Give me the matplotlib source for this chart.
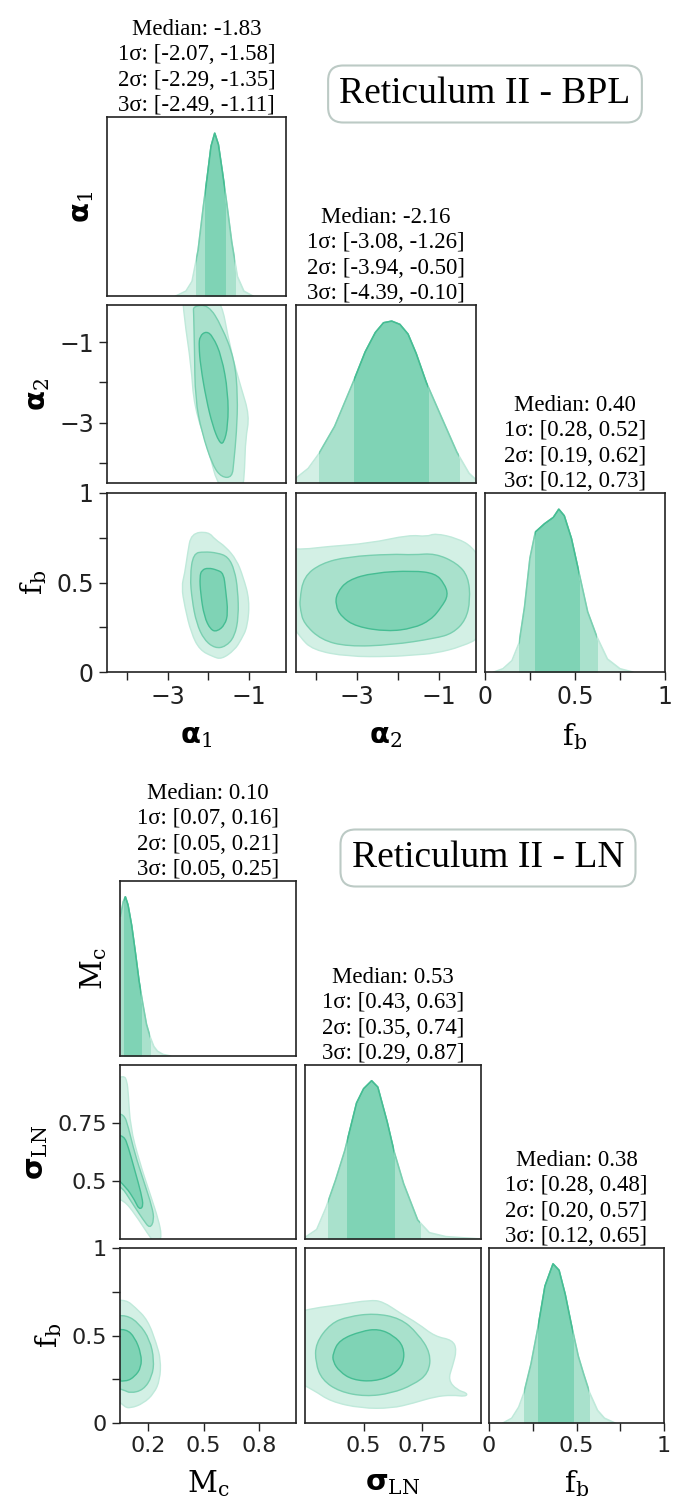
import numpy as np
import matplotlib
matplotlib.use('Agg')
import matplotlib.pyplot as plt
from matplotlib.path import Path
from matplotlib.patches import PathPatch, Rectangle

plt.rcParams['font.family'] = ['DejaVu Sans']
plt.rcParams['mathtext.fontset'] = 'custom'
plt.rcParams['mathtext.rm'] = 'DejaVu Serif'
plt.rcParams['mathtext.it'] = 'DejaVu Serif:italic'
plt.rcParams['mathtext.bf'] = 'DejaVu Sans:bold'

# ---------------- Reticulum II - BPL ----------------
bpl_names = [r'$\mathbf{\alpha}_\mathrm{1}$', r'$\mathbf{\alpha}_\mathrm{2}$', r'$\mathrm{f_b}$']
bpl_median = [-1.83, -2.16, 0.40]
bpl_1sig = [(-2.07, -1.58), (-3.08, -1.26), (0.28, 0.52)]
bpl_2sig = [(-2.29, -1.35), (-3.94, -0.50), (0.19, 0.62)]
bpl_3sig = [(-2.49, -1.11), (-4.39, -0.10), (0.12, 0.73)]

# marginal densities (peak normalised to 1)
alpha1_x = [-2.80, -2.55, -2.40, -2.25, -2.12, -2.02, -1.93, -1.84, -1.75, -1.65, -1.55, -1.42, -1.28, -1.12, -0.90]
alpha1_p = [0.0, 0.03, 0.09, 0.28, 0.55, 0.74, 0.92, 1.0, 0.93, 0.76, 0.58, 0.33, 0.12, 0.03, 0.0]
alpha2_x = [-4.5, -4.2, -3.94, -3.55, -3.1, -2.8, -2.55, -2.35, -2.15, -1.95, -1.75, -1.55, -1.3, -0.97,
            -0.55, -0.25, -0.08]
alpha2_p = [0.03, 0.09, 0.18, 0.35, 0.62, 0.81, 0.93, 0.99, 1.0, 0.98, 0.92, 0.80, 0.62, 0.43, 0.19, 0.06, 0.02]
fb1_x = [0.05, 0.10, 0.15, 0.19, 0.22, 0.25, 0.28, 0.33, 0.38, 0.41, 0.44, 0.48, 0.52, 0.57, 0.62, 0.68, 0.75, 0.82]
fb1_p = [0.0, 0.02, 0.07, 0.18, 0.40, 0.70, 0.86, 0.91, 0.95, 1.0, 0.96, 0.82, 0.62, 0.37, 0.22, 0.08, 0.02, 0.0]

# credible contours (3 sigma, 2 sigma, 1 sigma)
a1a2_3 = [(-2.64, 0.3), (-1.73, 0.3), (-1.45, -1.2), (-1.20, -2.1), (-0.98, -2.83), (-1.08, -3.41),
          (-1.10, -4.15), (-1.15, -4.7), (-1.73, -4.7), (-2.00, -3.66), (-2.35, -2.6), (-2.42, -1.59),
          (-2.60, -0.36)]
a1a2_2 = [(-2.37, -0.11), (-2.0, -0.07), (-1.67, -0.60), (-1.35, -1.43), (-1.27, -2.34), (-1.30, -3.24),
          (-1.37, -3.99), (-1.41, -4.36), (-1.67, -4.36), (-1.89, -4.07), (-2.16, -3.24), (-2.32, -2.42),
          (-2.34, -1.18), (-2.36, -0.27)]
a1a2_1 = [(-2.21, -0.85), (-2.05, -0.73), (-1.89, -0.85), (-1.67, -1.35), (-1.51, -2.25), (-1.51, -3.08),
          (-1.62, -3.53), (-1.73, -3.49), (-1.89, -3.08), (-2.05, -2.42), (-2.19, -1.59), (-2.23, -1.10)]
a1fb_3 = [(-2.42, 0.775), (-2.0, 0.784), (-1.83, 0.74), (-1.57, 0.70), (-1.30, 0.626), (-1.14, 0.533),
          (-0.98, 0.402), (-1.03, 0.253), (-1.19, 0.179), (-1.35, 0.123), (-1.67, 0.071), (-1.89, 0.086),
          (-2.21, 0.123), (-2.42, 0.216), (-2.58, 0.365), (-2.66, 0.477), (-2.58, 0.551), (-2.51, 0.663)]
a1fb_2 = [(-2.37, 0.663), (-2.10, 0.672), (-1.78, 0.666), (-1.51, 0.644), (-1.35, 0.570), (-1.27, 0.458),
          (-1.25, 0.309), (-1.35, 0.197), (-1.57, 0.142), (-1.83, 0.132), (-2.10, 0.179), (-2.29, 0.272),
          (-2.40, 0.402), (-2.45, 0.533)]
a1fb_1 = [(-2.16, 0.570), (-2.0, 0.582), (-1.78, 0.570), (-1.62, 0.551), (-1.57, 0.458), (-1.51, 0.328),
          (-1.59, 0.263), (-1.78, 0.226), (-1.94, 0.235), (-2.10, 0.309), (-2.19, 0.440), (-2.21, 0.533)]
a2fb_3 = [(-4.7, 0.69), (-4.31, 0.685), (-3.77, 0.70), (-2.69, 0.719), (-1.72, 0.766), (-1.29, 0.756),
          (-1.08, 0.775), (-0.54, 0.747), (-0.17, 0.70), (0.1, 0.6), (0.1, 0.2), (-0.43, 0.142),
          (-1.08, 0.104), (-1.62, 0.095), (-2.15, 0.086), (-3.23, 0.086), (-4.09, 0.123), (-4.41, 0.197),
          (-4.7, 0.3)]
a2fb_2 = [(-4.41, 0.402), (-4.31, 0.533), (-3.88, 0.607), (-3.23, 0.644), (-2.15, 0.659), (-1.62, 0.654),
          (-1.08, 0.663), (-0.54, 0.607), (-0.27, 0.533), (-0.22, 0.402), (-0.33, 0.290), (-0.65, 0.216),
          (-1.08, 0.188), (-2.15, 0.151), (-3.23, 0.142), (-3.88, 0.179), (-4.31, 0.272), (-4.39, 0.346)]
a2fb_1 = [(-3.50, 0.440), (-3.23, 0.514), (-2.59, 0.555), (-1.62, 0.566), (-1.08, 0.551), (-0.86, 0.495),
          (-0.76, 0.430), (-0.92, 0.365), (-1.19, 0.290), (-1.62, 0.244), (-2.26, 0.226), (-3.02, 0.253),
          (-3.39, 0.309), (-3.53, 0.374)]

bpl_lims = [(-4.5, -0.08), (-4.5, -0.08), (0, 1)]
bpl_ticks = [[-4, -3, -2, -1], [-4, -3, -2, -1], [0, 0.25, 0.5, 0.75, 1]]
bpl_ticklabels = [['', '\u22123', '', '\u22121'], ['', '\u22123', '', '\u22121'], ['0', '', '0.5', '', '1']]

# ---------------- Reticulum II - LN ----------------
ln_names = [r'$\mathrm{M_c}$', r'$\mathbf{\sigma}_\mathrm{LN}$', r'$\mathrm{f_b}$']
ln_median = [0.10, 0.53, 0.38]
ln_1sig = [(0.07, 0.16), (0.43, 0.63), (0.28, 0.48)]
ln_2sig = [(0.05, 0.21), (0.35, 0.74), (0.20, 0.57)]
ln_3sig = [(0.05, 0.25), (0.29, 0.87), (0.12, 0.65)]

mc_x = [0.05, 0.065, 0.076, 0.09, 0.11, 0.13, 0.15, 0.17, 0.19, 0.21, 0.23, 0.25, 0.28, 0.32]
mc_p = [0.88, 0.97, 1.0, 0.95, 0.82, 0.65, 0.47, 0.33, 0.20, 0.12, 0.06, 0.03, 0.01, 0.0]
sig_x = [0.25, 0.30, 0.34, 0.38, 0.42, 0.47, 0.50, 0.534, 0.56, 0.60, 0.63, 0.67, 0.73, 0.78, 0.85, 0.95, 1.0]
sig_p = [0.01, 0.06, 0.20, 0.37, 0.56, 0.86, 0.95, 1.0, 0.96, 0.74, 0.55, 0.35, 0.12, 0.04, 0.015, 0.005, 0.0]
fb2_x = [0.08, 0.13, 0.17, 0.20, 0.24, 0.28, 0.32, 0.366, 0.40, 0.435, 0.47, 0.51, 0.54, 0.575, 0.62, 0.66, 0.72]
fb2_p = [0.0, 0.03, 0.10, 0.19, 0.37, 0.60, 0.86, 1.0, 0.96, 0.81, 0.62, 0.42, 0.31, 0.19, 0.08, 0.03, 0.0]

mcsig_3 = [(0.0, 0.93), (0.068, 0.956), (0.085, 0.93), (0.092, 0.877), (0.103, 0.733), (0.150, 0.589),
           (0.209, 0.446), (0.256, 0.331), (0.272, 0.266), (0.26, 0.24), (0.232, 0.235), (0.197, 0.273),
           (0.127, 0.359), (0.068, 0.417), (0.0, 0.43)]
mcsig_2 = [(0.0, 0.79), (0.068, 0.79), (0.092, 0.733), (0.127, 0.618), (0.174, 0.503), (0.221, 0.388),
           (0.232, 0.331), (0.209, 0.295), (0.174, 0.331), (0.103, 0.417), (0.058, 0.474), (0.0, 0.49)]
mcsig_1 = [(0.0, 0.697), (0.068, 0.697), (0.092, 0.646), (0.127, 0.546), (0.162, 0.446), (0.174, 0.39),
           (0.150, 0.377), (0.127, 0.417), (0.080, 0.474), (0.0, 0.532)]
mcfb_3 = [(0.0, 0.70), (0.080, 0.703), (0.127, 0.663), (0.197, 0.589), (0.244, 0.455), (0.268, 0.360),
          (0.263, 0.246), (0.232, 0.170), (0.174, 0.112), (0.103, 0.084), (0.068, 0.093), (0.0, 0.17)]
mcfb_2 = [(0.0, 0.607), (0.080, 0.618), (0.150, 0.570), (0.209, 0.475), (0.232, 0.360), (0.221, 0.265),
          (0.174, 0.189), (0.103, 0.170), (0.068, 0.189), (0.0, 0.208)]
mcfb_1 = [(0.0, 0.529), (0.080, 0.538), (0.127, 0.490), (0.162, 0.395), (0.162, 0.318), (0.127, 0.265),
          (0.080, 0.236), (0.0, 0.246)]
sigfb_3 = [(0.20, 0.627), (0.286, 0.656), (0.397, 0.675), (0.527, 0.703), (0.582, 0.694), (0.656, 0.627),
           (0.730, 0.570), (0.804, 0.494), (0.878, 0.475), (0.897, 0.418), (0.878, 0.322), (0.860, 0.246),
           (0.897, 0.189), (0.943, 0.170), (0.934, 0.151), (0.878, 0.160), (0.804, 0.151), (0.711, 0.113),
           (0.619, 0.084), (0.490, 0.084), (0.360, 0.122), (0.286, 0.189), (0.20, 0.246)]
sigfb_2 = [(0.295, 0.456), (0.360, 0.570), (0.434, 0.608), (0.545, 0.627), (0.656, 0.599), (0.730, 0.513),
           (0.786, 0.399), (0.777, 0.284), (0.711, 0.218), (0.619, 0.170), (0.508, 0.151), (0.397, 0.179),
           (0.323, 0.246), (0.295, 0.342)]
sigfb_1 = [(0.369, 0.399), (0.397, 0.475), (0.490, 0.525), (0.564, 0.538), (0.628, 0.500), (0.671, 0.437),
           (0.671, 0.342), (0.628, 0.275), (0.545, 0.237), (0.453, 0.246), (0.397, 0.294), (0.369, 0.351)]

ln_lims = [(0.047, 1.0), (0.25, 1.0), (0, 1)]
ln_ticks = [[0.2, 0.5, 0.8], [0.5, 0.75], [0, 0.25, 0.5, 0.75, 1]]
ln_ticklabels = [['0.2', '0.5', '0.8'], ['0.5', '0.75'], ['0', '', '0.5', '', '1']]

# colours
LIGHT, MID, DARK = '#d3f0e5', '#a9e1cc', '#7fd3b5'
EDGE_LIGHT, EDGE_MID, EDGE_DARK = '#bfe9da', '#79cfb0', '#45bd93'

W, H = 684, 1499


def add_axes_px(fig, x0, x1, y0, y1):
    return fig.add_axes([x0 / W, 1 - y1 / H, (x1 - x0) / W, (y1 - y0) / H])


def smooth_path(pts):
    pts = np.asarray(pts, dtype=float)
    mids = (pts + np.roll(pts, -1, axis=0)) / 2
    verts = [mids[-1]]
    codes = [Path.MOVETO]
    for p, m in zip(pts, mids):
        verts += [p, m]
        codes += [Path.CURVE3, Path.CURVE3]
    verts.append(mids[-1])
    codes.append(Path.CLOSEPOLY)
    return Path(verts, codes)


def draw_marginal(ax, x, p, s1, s2, lim):
    bands = [(None, LIGHT, EDGE_LIGHT), (s2, MID, EDGE_MID), (s1, DARK, EDGE_DARK)]
    for band, fc, ec in bands:
        poly = ax.fill_between(x, 0, p, color=fc, lw=0)
        line, = ax.plot(x, p, color=ec, lw=1.2)
        if band is not None:
            clip = Rectangle((band[0], -1), band[1] - band[0], 3, transform=ax.transData)
            poly.set_clip_path(clip)
            line.set_clip_path(clip)
    ax.set_xlim(lim)
    ax.set_ylim(0, 1.1)


def draw_contours(ax, levels, xlim, ylim):
    for pts, fc, ec in zip(levels, [LIGHT, MID, DARK], [EDGE_LIGHT, EDGE_MID, EDGE_DARK]):
        ax.add_patch(PathPatch(smooth_path(pts), facecolor=fc, edgecolor=ec, lw=1.0))
    ax.set_xlim(xlim)
    ax.set_ylim(ylim)


def corner(fig, cols, rows, names, lims, ticks, ticklabels, margs, pairs, med, s1, s2, s3,
           title, title_xy, tick_size):
    n = len(names)
    for r in range(n):
        for c in range(r + 1):
            ax = add_axes_px(fig, cols[c][0], cols[c][1], rows[r][0], rows[r][1])
            for sp in ax.spines.values():
                sp.set_linewidth(1.2)
                sp.set_color('#222222')
            ax.tick_params(direction='out', length=6, width=1, labelsize=tick_size, colors='#222222')
            if r == c:
                x, p = margs[c]
                draw_marginal(ax, x, p, s1[c], s2[c], lims[c])
                stats = (f'Median: {med[c]:.2f}\n1\u03c3: [{s1[c][0]:.2f}, {s1[c][1]:.2f}]\n'
                         f'2\u03c3: [{s2[c][0]:.2f}, {s2[c][1]:.2f}]\n3\u03c3: [{s3[c][0]:.2f}, {s3[c][1]:.2f}]')
                ax.set_title(stats, fontsize=16.5, family='Liberation Serif', pad=4, linespacing=1.28)
                ax.set_yticks([])
            else:
                draw_contours(ax, pairs[(r, c)], lims[c], lims[r])
                if c == 0:
                    ax.set_yticks(ticks[r])
                    ax.set_yticklabels(ticklabels[r])
                else:
                    ax.set_yticks([])
            if r == n - 1:
                ax.set_xticks(ticks[c])
                ax.set_xticklabels(ticklabels[c])
                ax.set_xlabel(names[c], fontsize=21, labelpad=9)
            else:
                ax.set_xticks([])
            if c == 0:
                ax.set_ylabel(names[r], fontsize=21, labelpad=8 if r == 0 else 5)
    fig.text(title_xy[0] / W, 1 - title_xy[1] / H, title, fontsize=27, family='Liberation Serif',
             ha='center', va='center',
             bbox=dict(boxstyle='round,pad=0.3,rounding_size=0.4', fc='white', ec='#bccac5', lw=1.5))


fig = plt.figure(figsize=(W / 100, H / 100), dpi=100)

corner(fig,
       cols=[(107, 286), (296, 476), (485, 665)],
       rows=[(117, 296), (305, 483), (493, 672)],
       names=bpl_names, lims=bpl_lims, ticks=bpl_ticks, ticklabels=bpl_ticklabels,
       margs=[(alpha1_x, alpha1_p), (alpha2_x, alpha2_p), (fb1_x, fb1_p)],
       pairs={(1, 0): [a1a2_3, a1a2_2, a1a2_1], (2, 0): [a1fb_3, a1fb_2, a1fb_1], (2, 1): [a2fb_3, a2fb_2, a2fb_1]},
       med=bpl_median, s1=bpl_1sig, s2=bpl_2sig, s3=bpl_3sig,
       title='Reticulum II - BPL', title_xy=(485, 94), tick_size=17)

corner(fig,
       cols=[(120, 296), (305, 481), (489, 664)],
       rows=[(881, 1056), (1065, 1239), (1248, 1423)],
       names=ln_names, lims=ln_lims, ticks=ln_ticks, ticklabels=ln_ticklabels,
       margs=[(mc_x, mc_p), (sig_x, sig_p), (fb2_x, fb2_p)],
       pairs={(1, 0): [mcsig_3, mcsig_2, mcsig_1], (2, 0): [mcfb_3, mcfb_2, mcfb_1], (2, 1): [sigfb_3, sigfb_2, sigfb_1]},
       med=ln_median, s1=ln_1sig, s2=ln_2sig, s3=ln_3sig,
       title='Reticulum II - LN', title_xy=(488, 858), tick_size=16)

fig.savefig('out.png', dpi=100)
